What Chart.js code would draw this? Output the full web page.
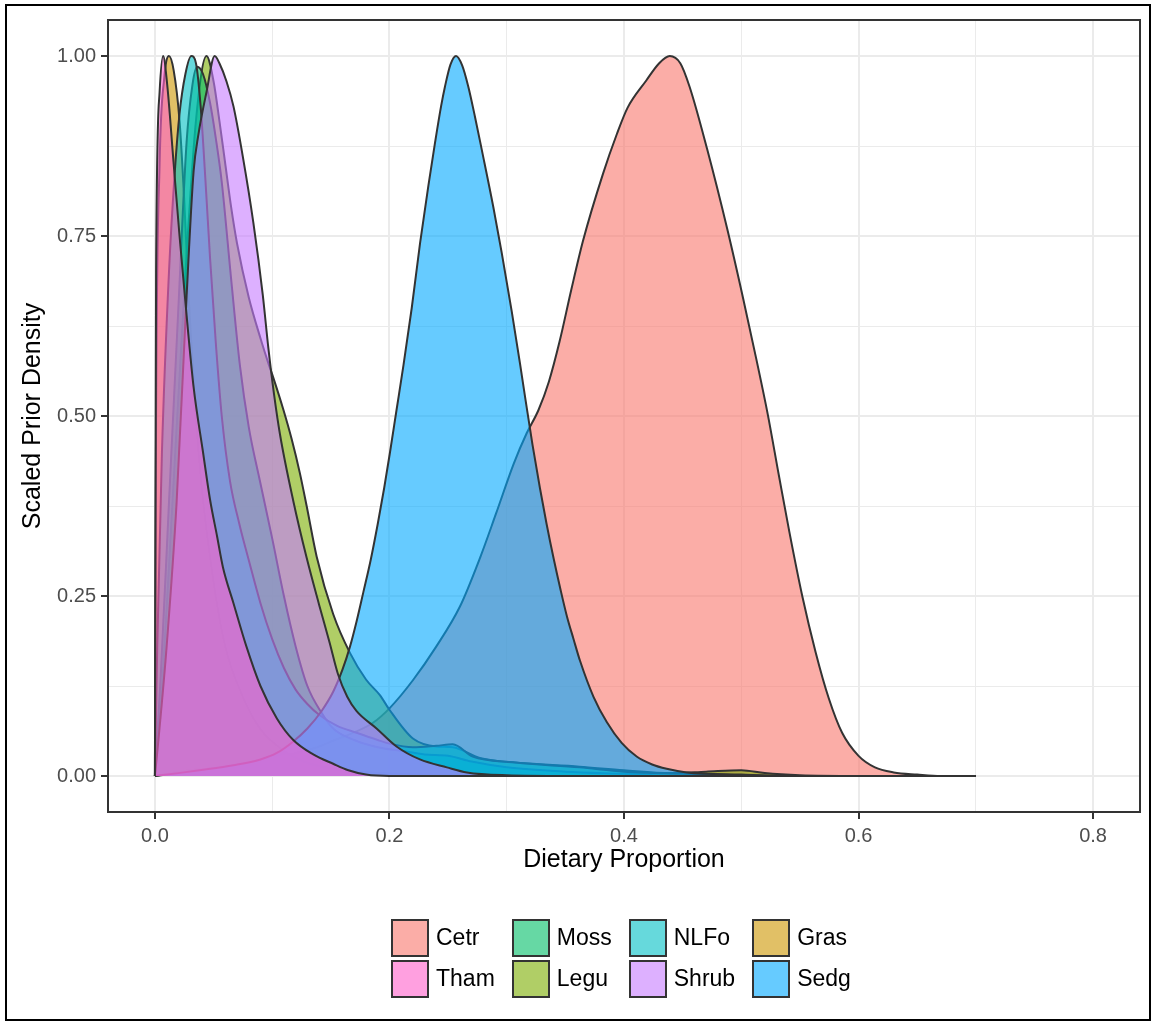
<!DOCTYPE html>
<html>
<head>
<meta charset="utf-8">
<title>Scaled Prior Density</title>
<script src="https://cdn.jsdelivr.net/npm/chart.js@4.4.1/dist/chart.umd.min.js"></script>
<style>
  html, body { margin: 0; padding: 0; background: #fff; }
  #wrap { position: relative; width: 1153px; height: 1024px; font-family: "Liberation Sans", Arial, sans-serif; }
  #chart { position: absolute; left: 0; top: 0; }
  #frame { position: absolute; left: 5px; top: 4px; width: 1146px; height: 1017px; border: 2px solid #000; box-sizing: border-box; pointer-events: none; }
  #legend { position: absolute; left: 391px; top: 917px; display: grid; grid-auto-flow: column; grid-template-rows: 41px 41px; column-gap: 17px; }
  .item { display: flex; align-items: center; }
  .key { width: 38px; height: 38px; border: 2px solid #333; box-sizing: border-box; }
  .lab { margin-left: 7px; font-size: 23px; color: #000; }
</style>
</head>
<body>
<div id="wrap">
  <canvas id="chart" width="1153" height="1024"></canvas>
  <div id="legend"></div>
  <div id="frame"></div>
</div>
<script>
// groups in drawing order (first = bottom layer), and the order shown in the legend
var drawOrder = ["Cetr", "Gras", "Legu", "Moss", "NLFo", "Sedg", "Shrub", "Tham"];
var legendOrder = ["Cetr", "Tham", "Moss", "Legu", "NLFo", "Shrub", "Gras", "Sedg"];

// axis ticks
var xMajor = [0, 0.2, 0.4, 0.6, 0.8];
var xLabels = ["0.0", "0.2", "0.4", "0.6", "0.8"];
var xMinor = [0.1, 0.3, 0.5, 0.7];
var yMajor = [0, 0.25, 0.5, 0.75, 1];
var yLabels = ["0.00", "0.25", "0.50", "0.75", "1.00"];
var yMinor = [0.125, 0.375, 0.625, 0.875];

// scaled densities, [dietary proportion, density]
var cetr = [[0,0],[0.02,0.006],[0.04,0.01],[0.067,0.013],[0.09,0.02],[0.104,0.025],[0.12,0.032],[0.138,0.04],
  [0.153,0.05],[0.169,0.06],[0.186,0.074],[0.2,0.094],[0.22,0.133],[0.24,0.18],[0.26,0.235],[0.277,0.302],
  [0.291,0.365],[0.306,0.434],[0.317,0.476],[0.327,0.508],[0.336,0.548],[0.345,0.603],[0.355,0.675],[0.365,0.743],
  [0.382,0.836],[0.394,0.892],[0.403,0.928],[0.419,0.966],[0.43,0.99],[0.439,1.0],[0.448,0.99],[0.456,0.957],
  [0.471,0.87],[0.488,0.76],[0.5015,0.664],[0.5127,0.58],[0.5225,0.503],[0.532,0.418],[0.541,0.339],[0.552,0.25],
  [0.5634,0.172],[0.5746,0.108],[0.586,0.06],[0.6,0.028],[0.614,0.012],[0.63,0.005],[0.65,0.002],[0.67,0],[0.7,0]];
var gras = [[0,0],[0.001,0.5],[0.004,0.85],[0.008,0.97],[0.012,1.0],[0.016,0.98],[0.021,0.91],[0.025,0.8],
  [0.029,0.66],[0.034,0.52],[0.04,0.4],[0.05,0.27],[0.06,0.18],[0.075,0.11],[0.09,0.065],[0.11,0.035],
  [0.13,0.018],[0.16,0.008],[0.2,0.003],[0.25,0.001],[0.3,0],[0.7,0]];
var legu = [[0,0],[0.006,0.12],[0.015,0.38],[0.025,0.67],[0.035,0.91],[0.044,1.0],[0.05,0.965],[0.055,0.91],
  [0.06,0.85],[0.065,0.79],[0.07,0.74],[0.08,0.665],[0.09,0.608],[0.097,0.572],[0.101,0.553],[0.1095,0.509],
  [0.1166,0.468],[0.1237,0.42],[0.1294,0.375],[0.1379,0.305],[0.152,0.225],[0.1663,0.171],[0.18,0.134],
  [0.192,0.112],[0.2,0.092],[0.22,0.052],[0.24,0.041],[0.254,0.04],[0.277,0.025],[0.305,0.019],[0.362,0.013],
  [0.4,0.008],[0.44,0.004],[0.47,0.006],[0.5,0.008],[0.52,0.004],[0.55,0.001],[0.6,0],[0.7,0]];
var moss = [[0,0],[0.005,0.14],[0.012,0.38],[0.02,0.65],[0.027,0.88],[0.032,0.96],[0.036,0.985],[0.041,0.975],
  [0.047,0.935],[0.052,0.885],[0.057,0.825],[0.065,0.69],[0.0725,0.57],[0.08,0.485],[0.0895,0.41],[0.1,0.33],
  [0.11,0.25],[0.12,0.18],[0.13,0.125],[0.142,0.088],[0.152,0.066],[0.17,0.05],[0.19,0.04],[0.21,0.035],
  [0.23,0.03],[0.25,0.028],[0.27,0.02],[0.3,0.012],[0.35,0.006],[0.4,0.003],[0.45,0],[0.7,0]];
var nlfo = [[0,0],[0.002,0.18],[0.006,0.45],[0.012,0.7],[0.017,0.84],[0.021,0.92],[0.026,0.975],[0.031,1.0],
  [0.035,0.99],[0.039,0.93],[0.043,0.83],[0.047,0.72],[0.052,0.6],[0.057,0.5],[0.064,0.41],[0.072,0.35],
  [0.08,0.3],[0.09,0.24],[0.1,0.19],[0.11,0.15],[0.12,0.12],[0.13,0.1],[0.14,0.085],[0.155,0.07],[0.172,0.06],
  [0.19,0.05],[0.2,0.045],[0.22,0.04],[0.24,0.042],[0.254,0.044],[0.271,0.027],[0.305,0.019],[0.362,0.012],
  [0.4,0.006],[0.45,0.003],[0.5,0.001],[0.55,0],[0.7,0]];
var sedg = [[0,0],[0.02,0.004],[0.038,0.008],[0.067,0.015],[0.09,0.023],[0.104,0.032],[0.118,0.048],[0.13,0.066],
  [0.142,0.09],[0.152,0.117],[0.16,0.148],[0.1664,0.18],[0.172,0.215],[0.1777,0.255],[0.184,0.3],[0.19,0.35],
  [0.1955,0.4],[0.2005,0.45],[0.206,0.508],[0.2119,0.57],[0.219,0.65],[0.2261,0.74],[0.2332,0.82],[0.2389,0.88],
  [0.244,0.93],[0.2474,0.958],[0.252,0.988],[0.2568,1.0],[0.262,0.987],[0.2673,0.957],[0.273,0.915],
  [0.2787,0.87],[0.2886,0.79],[0.2957,0.727],[0.3043,0.645],[0.3114,0.572],[0.3156,0.527],[0.322,0.46],
  [0.3283,0.4],[0.334,0.35],[0.34,0.302],[0.346,0.258],[0.3513,0.222],[0.357,0.19],[0.3625,0.16],[0.374,0.11],
  [0.3853,0.075],[0.398,0.046],[0.4108,0.027],[0.424,0.016],[0.4364,0.01],[0.4535,0.005],[0.5,0.002],
  [0.55,0],[0.7,0]];
var shrub = [[0,0],[0.003,0.05],[0.01,0.18],[0.0185,0.38],[0.027,0.666],[0.033,0.84],[0.037,0.89],[0.044,0.95],
  [0.051,1.0],[0.055,0.99],[0.061,0.965],[0.067,0.93],[0.075,0.86],[0.084,0.768],[0.092,0.668],[0.0967,0.595],
  [0.1016,0.53],[0.1066,0.475],[0.118,0.382],[0.1294,0.303],[0.14,0.238],[0.149,0.185],[0.156,0.142],
  [0.164,0.11],[0.172,0.09],[0.189,0.066],[0.206,0.041],[0.226,0.023],[0.249,0.012],[0.266,0.005],[0.3,0.001],
  [0.35,0],[0.7,0]];
var tham = [[0,0],[0.001,0.7],[0.004,0.95],[0.007,1.0],[0.0105,0.96],[0.016,0.85],[0.021,0.75],[0.027,0.64],
  [0.033,0.54],[0.041,0.45],[0.047,0.384],[0.053,0.333],[0.058,0.29],[0.067,0.24],[0.078,0.18],[0.09,0.125],
  [0.104,0.08],[0.118,0.05],[0.135,0.03],[0.152,0.017],[0.165,0.008],[0.18,0.002],[0.2,0],[0.7,0]];

var series = { Cetr: cetr, Gras: gras, Legu: legu, Moss: moss, NLFo: nlfo, Sedg: sedg, Shrub: shrub, Tham: tham };

var groupColors = {
  Cetr: "#F8766D", Gras: "#CD9600", Legu: "#7CAE00", Moss: "#00BE67",
  NLFo: "#00BFC4", Sedg: "#00A9FF", Shrub: "#C77CFF", Tham: "#FF61CC"
};
var fillAlpha = 0.6;
var fontFamily = '"Liberation Sans", Arial, sans-serif';

function withAlpha(hex, a) {
  var r = parseInt(hex.slice(1, 3), 16), g = parseInt(hex.slice(3, 5), 16), b = parseInt(hex.slice(5, 7), 16);
  return "rgba(" + r + "," + g + "," + b + "," + a + ")";
}
function findTick(list, v) {
  for (var i = 0; i < list.length; i++) if (Math.abs(list[i] - v) < 1e-9) return i;
  return -1;
}
function allTicks(major, minor) {
  return major.concat(minor).sort(function(a, b) { return a - b; }).map(function(v) { return { value: v }; });
}

var panelBorder = {
  id: "panelBorder",
  afterDatasetsDraw: function(chart) {
    var c = chart.ctx, a = chart.chartArea;
    c.save();
    c.strokeStyle = "#333333";
    c.lineWidth = 2;
    c.strokeRect(a.left, a.top, a.right - a.left, a.bottom - a.top);
    c.restore();
  }
};

Chart.defaults.font.family = fontFamily;

new Chart(document.getElementById("chart"), {
  type: "line",
  data: {
    datasets: drawOrder.map(function(name, i) {
      return {
        label: name,
        data: series[name].map(function(p) { return { x: p[0], y: p[1] }; }),
        order: drawOrder.length - i,
        backgroundColor: withAlpha(groupColors[name], fillAlpha),
        borderColor: "#333333",
        borderWidth: 2,
        fill: "origin",
        pointRadius: 0,
        cubicInterpolationMode: "monotone"
      };
    })
  },
  options: {
    responsive: false,
    animation: false,
    devicePixelRatio: 1,
    layout: { padding: { top: 20, right: 13, bottom: 144, left: 0 } },
    plugins: { legend: { display: false }, tooltip: { enabled: false } },
    scales: {
      x: {
        type: "linear",
        min: -0.04,
        max: 0.84,
        afterBuildTicks: function(scale) { scale.ticks = allTicks(xMajor, xMinor); },
        afterFit: function(scale) { scale.height = 68; },
        border: { display: false },
        grid: {
          color: "#EBEBEB",
          lineWidth: function(ctx) { return ctx.tick && findTick(xMajor, ctx.tick.value) >= 0 ? 2 : 1; },
          tickColor: function(ctx) { return ctx.tick && findTick(xMajor, ctx.tick.value) >= 0 ? "#333333" : "rgba(0,0,0,0)"; },
          tickLength: 7,
          tickWidth: 2
        },
        ticks: {
          autoSkip: false,
          maxRotation: 0,
          padding: 5,
          color: "#4D4D4D",
          font: { size: 20 },
          callback: function(v) { var i = findTick(xMajor, v); return i >= 0 ? xLabels[i] : ""; }
        },
        title: { display: true, text: "Dietary Proportion", color: "#000", font: { size: 25 }, padding: { top: 0, bottom: 5 } }
      },
      y: {
        type: "linear",
        min: -0.05,
        max: 1.05,
        afterBuildTicks: function(scale) { scale.ticks = allTicks(yMajor, yMinor); },
        afterFit: function(scale) { scale.width = 108; },
        border: { display: false },
        grid: {
          color: "#EBEBEB",
          lineWidth: function(ctx) { return ctx.tick && findTick(yMajor, ctx.tick.value) >= 0 ? 2 : 1; },
          tickColor: function(ctx) { return ctx.tick && findTick(yMajor, ctx.tick.value) >= 0 ? "#333333" : "rgba(0,0,0,0)"; },
          tickLength: 7,
          tickWidth: 2
        },
        ticks: {
          autoSkip: false,
          padding: 5,
          color: "#4D4D4D",
          font: { size: 20 },
          callback: function(v) { var i = findTick(yMajor, v); return i >= 0 ? yLabels[i] : ""; }
        },
        title: { display: true, text: "Scaled Prior Density", color: "#000", font: { size: 25 }, padding: { top: 18, bottom: 0 } }
      }
    }
  },
  plugins: [panelBorder]
});

// legend: two rows, filled column by column
var legendEl = document.getElementById("legend");
legendOrder.forEach(function(name) {
  var item = document.createElement("div");
  item.className = "item";
  var key = document.createElement("div");
  key.className = "key";
  key.style.background = withAlpha(groupColors[name], fillAlpha);
  var lab = document.createElement("span");
  lab.className = "lab";
  lab.textContent = name;
  item.appendChild(key);
  item.appendChild(lab);
  legendEl.appendChild(item);
});
</script>
</body>
</html>
